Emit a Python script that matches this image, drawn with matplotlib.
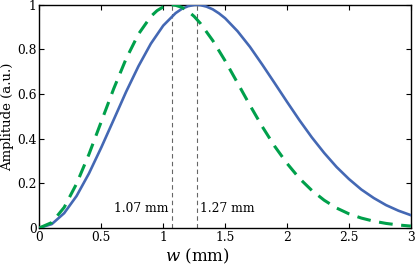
import matplotlib
matplotlib.use('Agg')
import matplotlib.pyplot as plt

plt.rcParams['font.family'] = ['DejaVu Serif']
plt.rcParams['mathtext.fontset'] = 'dejavuserif'

# amplitude vs w (mm)
w_a = [0.0, 0.1, 0.2, 0.3, 0.4, 0.5, 0.6, 0.7, 0.8, 0.9, 1.0, 1.1, 1.15, 1.2, 1.25,
       1.27, 1.3, 1.35, 1.4, 1.45, 1.5, 1.6, 1.7, 1.8, 1.9, 2.0, 2.1, 2.2, 2.3,
       2.4, 2.5, 2.6, 2.7, 2.8, 2.9, 3.0]
amp_a = [0.0, 0.017, 0.066, 0.143, 0.244, 0.361, 0.485, 0.610, 0.725, 0.826,
         0.907, 0.963, 0.982, 0.994, 0.9995, 1.0, 0.999, 0.992, 0.980, 0.962,
         0.940, 0.882, 0.812, 0.732, 0.649, 0.565, 0.483, 0.406, 0.336, 0.273,
         0.219, 0.172, 0.134, 0.102, 0.077, 0.057]

w_b = [0.0, 0.1, 0.2, 0.3, 0.4, 0.5, 0.6, 0.7, 0.8, 0.9, 0.95, 1.0, 1.05, 1.07,
       1.1, 1.15, 1.2, 1.25, 1.3, 1.4, 1.5, 1.6, 1.7, 1.8, 1.9, 2.0, 2.1, 2.2,
       2.3, 2.4, 2.5, 2.6, 2.7, 2.8, 2.9, 3.0]
amp_b = [0.0, 0.024, 0.092, 0.198, 0.330, 0.477, 0.624, 0.758, 0.869, 0.948,
         0.974, 0.991, 0.9993, 1.0, 0.998, 0.989, 0.972, 0.948, 0.917, 0.840,
         0.749, 0.650, 0.550, 0.454, 0.366, 0.289, 0.222, 0.168, 0.124, 0.089,
         0.063, 0.044, 0.030, 0.020, 0.013, 0.008]

peaks = [1.07, 1.27]

fig = plt.figure(figsize=(4.15, 2.7), dpi=100)
ax = fig.add_axes([0.095, 0.156, 0.895, 0.826])

ax.plot(w_a, amp_a, color='#4468b4', lw=1.9, solid_joinstyle='round', zorder=3)
ax.plot(w_b, amp_b, color='#00a04b', lw=2.2, ls=(0, (4.5, 2.8)), zorder=3)

for p in peaks:
    ax.axvline(p, color='#666666', lw=0.8, ls=(0, (4, 3)), zorder=2)

ax.text(peaks[0] - 0.03, 0.085, '%.2f mm' % peaks[0], ha='right', va='center', fontsize=8.8)
ax.text(peaks[1] + 0.03, 0.085, '%.2f mm' % peaks[1], ha='left', va='center', fontsize=8.8)

ax.set_xlim(0, 3)
ax.set_ylim(0, 1)
ax.set_xticks([0, 0.5, 1, 1.5, 2, 2.5, 3])
ax.set_xticklabels(['0', '0.5', '1', '1.5', '2', '2.5', '3'])
ax.set_yticks([0, 0.2, 0.4, 0.6, 0.8, 1])
ax.set_yticklabels(['0', '0.2', '0.4', '0.6', '0.8', '1'])
ax.tick_params(direction='in', top=True, right=True, length=3.5, width=0.8,
               labelsize=8.8, pad=2)
for s in ax.spines.values():
    s.set_linewidth(1.0)

ax.set_xlabel(r'$w$ (mm)', fontsize=12)
ax.xaxis.set_label_coords(0.424, -0.085)
ax.set_ylabel('Amplitude (a.u.)', fontsize=9.5, labelpad=2)

fig.savefig('out.png', dpi=100)
